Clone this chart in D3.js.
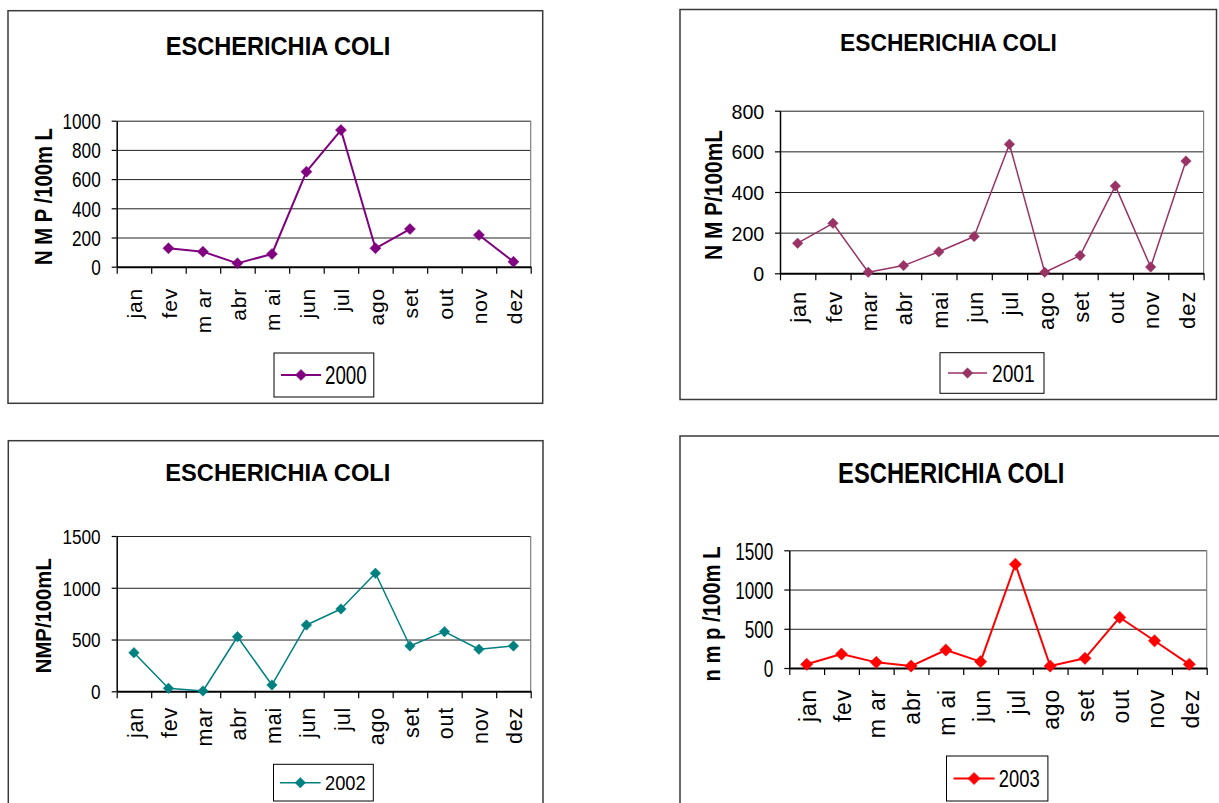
<!DOCTYPE html>
<html>
<head>
<meta charset="utf-8">
<script src="https://cdn.jsdelivr.net/npm/d3@7/dist/d3.min.js"></script>
<style>
  html, body { margin: 0; padding: 0; background: #fff; }
  svg { display: block; font-family: "Liberation Sans", Arial, sans-serif; }
</style>
</head>
<body>
<svg id="chart" width="1219" height="803"></svg>
<script>
// ---------------- DATA ----------------
const chartTitle = "ESCHERICHIA COLI";
const months2000 = ["jan","fev","m ar","abr","m ai","jun","jul","ago","set","out","nov","dez"];
const months2001 = ["jan","fev","mar","abr","mai","jun","jul","ago","set","out","nov","dez"];
const months2002 = ["jan","fev","mar","abr","mai","jun","jul","ago","set","out","nov","dez"];
const months2003 = ["jan","fev","m ar","abr","m ai","jun","jul","ago","set","out","nov","dez"];

const values2000 = [null, 126, 103, 23, 87, 651, 936, 126, 258, null, 217, 34];
const values2001 = [148, 246, 5, 38, 106, 181, 635, 5, 87, 430, 31, 552];
const values2002 = [373, 29, 3, 527, 61, 640, 795, 1140, 438, 576, 406, 438];
const values2003 = [47, 178, 72, 25, 229, 81, 1322, 25, 123, 644, 347, 47];

const ticks2000 = [0, 200, 400, 600, 800, 1000];
const ticks2001 = [0, 200, 400, 600, 800];
const ticks2002 = [0, 500, 1000, 1500];
const ticks2003 = [0, 500, 1000, 1500];

const yTitle2000 = "N M P /100m L";
const yTitle2001 = "N M P/100mL";
const yTitle2002 = "NMP/100mL";
const yTitle2003 = "n m p /100m L";

const series2000 = "2000", series2001 = "2001", series2002 = "2002", series2003 = "2003";

// ---------------- LAYOUT ----------------
const panels = [
  { months: months2000, values: values2000, ticks: ticks2000, yTitle: yTitle2000, name: series2000,
    color: "#800080", lw: 2, msize: 61,
    frame: [8, 10.7, 542.7, 403.3], plot: { l: 116.7, r: 530.7, t: 120.7, b: 266.7 },
    title: { x: 278, y: 55, fs: 26.5, sx: 0.89 },
    ytick: { fs: 21.5, sx: 0.8, gap: 16 },
    ytitle: { x: 51.5, y: 196.5, fs: 24, len: 137 },
    month: { fs: 21, y0: 288 },
    legend: { box: [274, 353, 373.8, 397], line: [281, 321], tx: 325, fs: 25, sx: 0.75 } },
  { months: months2001, values: values2001, ticks: ticks2001, yTitle: yTitle2001, name: series2001,
    color: "#993366", lw: 1.5, msize: 55,
    frame: [680, 9.5, 1216.5, 399.5], plot: { l: 780, r: 1203.6, t: 110.7, b: 273.3 },
    title: { x: 948.5, y: 50.7, fs: 24, sx: 0.95 },
    ytick: { fs: 20.5, sx: 0.96, gap: 15.7 },
    ytitle: { x: 721.5, y: 195, fs: 23.5, len: 130 },
    month: { fs: 22, y0: 291 },
    legend: { box: [940, 352.7, 1044, 393.3], line: [948, 987], tx: 992, fs: 24, sx: 0.8 } },
  { months: months2002, values: values2002, ticks: ticks2002, yTitle: yTitle2002, name: series2002,
    color: "#008080", lw: 1.5, msize: 55,
    frame: [8.3, 440.7, 543, 812], plot: { l: 116.7, r: 530.7, t: 536, b: 691.3 },
    title: { x: 277.8, y: 480.7, fs: 24, sx: 0.985 },
    ytick: { fs: 20.5, sx: 0.84, gap: 16 },
    ytitle: { x: 50.5, y: 615.7, fs: 22.5, len: 115 },
    month: { fs: 21.5, y0: 707 },
    legend: { box: [273.5, 764.3, 373.3, 801], line: [280, 320.6], tx: 325, fs: 21, sx: 0.87 } },
  { months: months2003, values: values2003, ticks: ticks2003, yTitle: yTitle2003, name: series2003,
    color: "#ff0000", lw: 2, msize: 75,
    frame: [680, 436, 1230, 812], plot: { l: 789.3, r: 1206.7, t: 550.3, b: 668 },
    title: { x: 951.2, y: 483.3, fs: 29, sx: 0.82 },
    ytick: { fs: 24.5, sx: 0.70, gap: 16 },
    ytitle: { x: 719.5, y: 614, fs: 24, len: 135 },
    month: { fs: 23, y0: 689 },
    legend: { box: [946.5, 756, 1047.9, 801], line: [953.5, 994.6], tx: 998.8, fs: 23, sx: 0.8 } }
];

const svg = d3.select("#chart");

function diamond(sel, size, color) {
  sel.attr("d", d3.symbol(d3.symbolSquare, size)())
     .attr("fill", color).attr("stroke", color).attr("stroke-width", 0.5);
}

panels.forEach(p => {
  const g = svg.append("g");
  const [fx0, fy0, fx1, fy1] = p.frame;
  g.append("rect").attr("x", fx0).attr("y", fy0).attr("width", fx1 - fx0).attr("height", fy1 - fy0)
    .attr("fill", "#fff").attr("stroke", "#3a3a3a").attr("stroke-width", 1.5);

  // title
  g.append("text")
    .attr("transform", `translate(${p.title.x},${p.title.y}) scale(${p.title.sx},1)`)
    .attr("text-anchor", "middle").attr("font-weight", "bold").attr("font-size", p.title.fs)
    .attr("fill", "#000").text(chartTitle);

  const pl = p.plot;
  const yMax = d3.max(p.ticks);
  const y = d3.scaleLinear().domain([0, yMax]).range([pl.b, pl.t]);
  const xb = d3.scaleBand().domain(d3.range(p.months.length)).range([pl.l, pl.r]).padding(0);
  const xi = d3.scaleLinear().domain([0, p.months.length]).range([pl.l, pl.r]);

  // gridlines
  const grid = g.append("g").attr("transform", `translate(${pl.l},0)`)
    .call(d3.axisLeft(y).tickValues(p.ticks.filter(t => t > 0)).tickSize(-(pl.r - pl.l)).tickFormat(""));
  grid.select(".domain").remove();
  grid.selectAll(".tick line").attr("stroke", "#222").attr("stroke-width", 1);

  // right border of plot area
  g.append("line").attr("x1", pl.r).attr("x2", pl.r).attr("y1", pl.t).attr("y2", pl.b)
    .attr("stroke", "#808080").attr("stroke-width", 1.2);

  // y axis
  const ya = g.append("g").attr("transform", `translate(${pl.l},0)`)
    .call(d3.axisLeft(y).tickValues(p.ticks).tickSize(5).tickSizeOuter(0).tickFormat(d3.format("d")));
  ya.select(".domain").attr("stroke", "#000").attr("stroke-width", 1.5);
  ya.selectAll(".tick line").attr("stroke", "#000").attr("stroke-width", 1.2);
  ya.selectAll(".tick text")
    .attr("x", null).attr("dy", null)
    .attr("transform", `translate(${-p.ytick.gap},${p.ytick.fs * 0.36}) scale(${p.ytick.sx},1)`)
    .attr("text-anchor", "end").attr("font-size", p.ytick.fs).attr("font-family", null).attr("fill", "#000");

  // x axis ticks at category boundaries
  const xa = g.append("g").attr("transform", `translate(0,${pl.b})`)
    .call(d3.axisBottom(xi).tickValues(d3.range(p.months.length + 1)).tickSize(7).tickSizeOuter(0).tickFormat(""));
  xa.select(".domain").attr("stroke", "#000").attr("stroke-width", 2);
  xa.selectAll(".tick line").attr("stroke", "#000").attr("stroke-width", 1.2);

  // month labels
  const xl = g.append("g").attr("transform", `translate(0,${p.month.y0})`)
    .call(d3.axisBottom(xb).tickSize(0).tickFormat(i => p.months[i]));
  xl.select(".domain").remove();
  xl.selectAll(".tick text")
    .attr("y", null).attr("dy", "0.4em")
    .attr("transform", "rotate(-90)")
    .attr("text-anchor", "end").attr("font-size", p.month.fs).attr("font-family", null)
    .attr("letter-spacing", 0.8).attr("fill", "#000");

  // y title
  g.append("text")
    .attr("transform", `translate(${p.ytitle.x},${p.ytitle.y}) rotate(-90)`)
    .attr("text-anchor", "middle").attr("font-weight", "bold").attr("font-size", p.ytitle.fs)
    .attr("textLength", p.ytitle.len).attr("lengthAdjust", "spacingAndGlyphs")
    .attr("fill", "#000").style("white-space", "pre").text(p.yTitle);

  // series line
  const line = d3.line().defined(d => d !== null)
    .x((d, i) => xb(i) + xb.bandwidth() / 2).y(d => y(d));
  g.append("path").datum(p.values).attr("d", line)
    .attr("fill", "none").attr("stroke", p.color).attr("stroke-width", p.lw).attr("stroke-linejoin", "round");

  g.selectAll(".mk").data(p.values.map((v, i) => ({ v, i })).filter(d => d.v !== null))
    .enter().append("path")
    .attr("transform", d => `translate(${xb(d.i) + xb.bandwidth() / 2},${y(d.v)}) rotate(45)`)
    .call(diamond, p.msize, p.color);

  // legend
  const lg = p.legend;
  const ly = (lg.box[1] + lg.box[3]) / 2;
  g.append("rect").attr("x", lg.box[0]).attr("y", lg.box[1])
    .attr("width", lg.box[2] - lg.box[0]).attr("height", lg.box[3] - lg.box[1])
    .attr("fill", "#fff").attr("stroke", "#000").attr("stroke-width", 1);
  g.append("line").attr("x1", lg.line[0]).attr("x2", lg.line[1]).attr("y1", ly).attr("y2", ly)
    .attr("stroke", p.color).attr("stroke-width", p.lw);
  g.append("path").attr("transform", `translate(${(lg.line[0] + lg.line[1]) / 2},${ly}) rotate(45)`)
    .call(diamond, p.msize, p.color);
  g.append("text")
    .attr("transform", `translate(${lg.tx},${ly + lg.fs * 0.36}) scale(${lg.sx},1)`)
    .attr("font-size", lg.fs).attr("fill", "#000").text(p.name);
});
</script>
</body>
</html>
